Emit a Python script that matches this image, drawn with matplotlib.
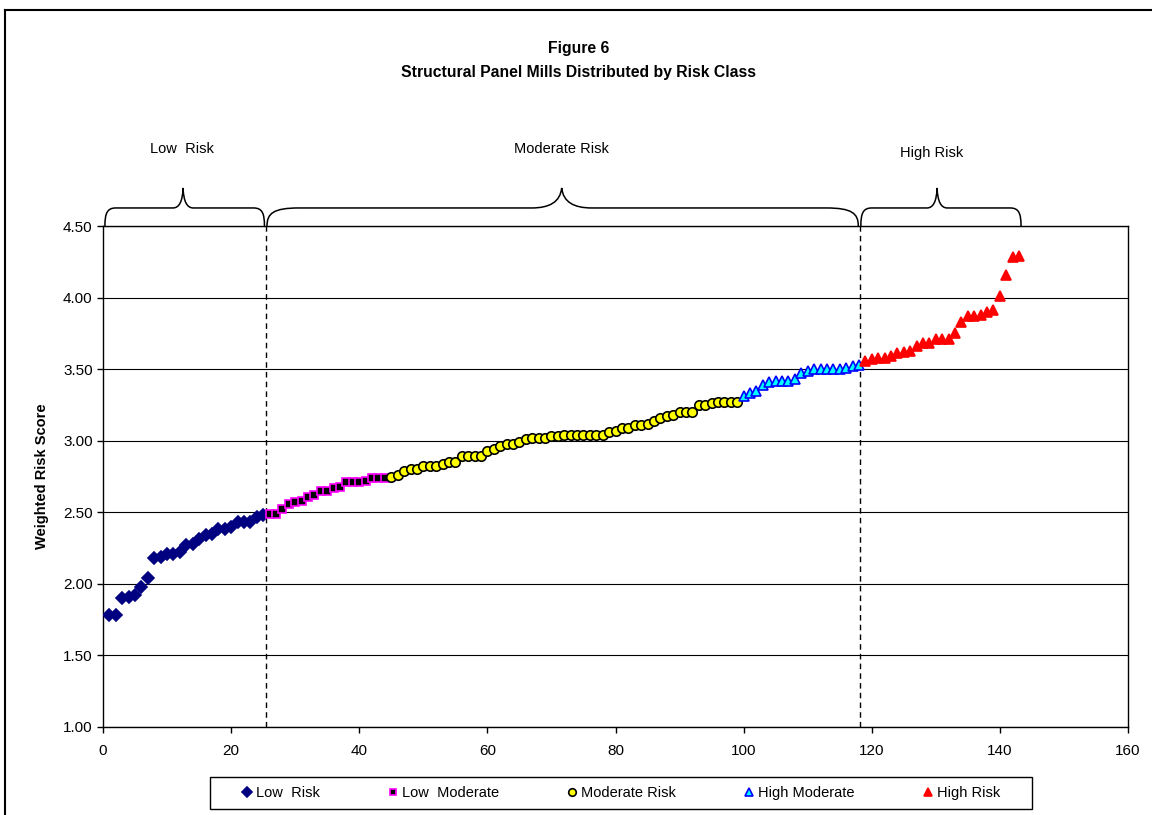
import numpy as np
import matplotlib
matplotlib.use("Agg")
import matplotlib.pyplot as plt
from matplotlib.path import Path
from matplotlib.patches import PathPatch, Rectangle
from matplotlib.lines import Line2D

plt.rcParams['font.family'] = ['Liberation Sans', 'DejaVu Sans']

# weighted risk scores, mills sorted ascending, one list per risk class
low_risk = [1.78, 1.78, 1.90, 1.91, 1.92, 1.98, 2.04, 2.18, 2.19, 2.21,
            2.21, 2.22, 2.27, 2.28, 2.31, 2.34, 2.35, 2.38, 2.38, 2.40,
            2.43, 2.43, 2.43, 2.47, 2.48]
low_moderate = [2.49, 2.49, 2.52, 2.56, 2.57, 2.58, 2.61, 2.62, 2.65, 2.65,
                2.67, 2.68, 2.71, 2.71, 2.71, 2.72, 2.74, 2.74, 2.74]
moderate = [2.75, 2.76, 2.79, 2.80, 2.80, 2.82, 2.82, 2.82, 2.84, 2.85,
            2.85, 2.89, 2.89, 2.89, 2.89, 2.93, 2.94, 2.96, 2.98, 2.98,
            2.99, 3.01, 3.02, 3.02, 3.02, 3.03, 3.03, 3.04, 3.04, 3.04,
            3.04, 3.04, 3.04, 3.04, 3.06, 3.07, 3.09, 3.09, 3.11, 3.11,
            3.12, 3.14, 3.16, 3.17, 3.18, 3.20, 3.20, 3.20, 3.25, 3.25,
            3.26, 3.27, 3.27, 3.27, 3.27]
high_moderate = [3.31, 3.33, 3.35, 3.39, 3.41, 3.42, 3.42, 3.42, 3.43, 3.47,
                 3.49, 3.50, 3.50, 3.50, 3.50, 3.50, 3.51, 3.52, 3.53]
high_risk = [3.56, 3.57, 3.58, 3.58, 3.59, 3.61, 3.62, 3.63, 3.66, 3.68,
             3.68, 3.71, 3.71, 3.71, 3.75, 3.83, 3.87, 3.87, 3.88, 3.90,
             3.91, 4.01, 4.16, 4.28, 4.29]

series_names = ['Low  Risk', 'Low  Moderate', 'Moderate Risk', 'High Moderate', 'High Risk']
series_data = [low_risk, low_moderate, moderate, high_moderate, high_risk]

# class boundaries (dashed lines) and bracket labels
cut_low = 25.4
cut_high = 118.1
bracket_labels = ['Low  Risk', 'Moderate Risk', 'High Risk']
bracket_spans = [(0.3, 25.2), (25.6, 117.9), (118.3, 143.3)]
bracket_tips = [12.5, 71.6, 130.2]
label_x = [12.3, 71.6, 129.4]
label_y = [5.04, 5.04, 5.01]

# marker styles: (marker, size, face, edge)
styles = [('D', 6.0, '#000080', '#000080'),
          ('s', 5.8, '#000000', '#FF00FF'),
          ('o', 6.8, '#FFFF00', '#000000'),
          ('^', 7.0, '#00FFFF', '#0000FF'),
          ('^', 7.0, '#FF0000', '#FF0000')]

fig = plt.figure(figsize=(11.52, 8.15), dpi=100)
ax = fig.add_axes([103 / 1152, 1 - 727 / 815, 1025 / 1152, 501 / 815])

start = 1
handles = []
for name, vals, (m, ms, fc, ec) in zip(series_names, series_data, styles):
    xs = np.arange(start, start + len(vals))
    h, = ax.plot(xs, vals, linestyle='none', marker=m, markersize=ms,
                 markerfacecolor=fc, markeredgecolor=ec, markeredgewidth=1.2,
                 label=name, zorder=3)
    handles.append(h)
    start += len(vals)

ax.set_xlim(0, 160)
ax.set_ylim(1.0, 4.5)
ax.set_xticks(np.arange(0, 161, 20))
ax.set_yticks(np.arange(1.0, 4.51, 0.5))
ax.set_yticklabels(['%.2f' % v for v in np.arange(1.0, 4.51, 0.5)])
ax.tick_params(labelsize=11, length=4, width=1, colors='black')
ax.tick_params(axis='x', pad=8)
ax.grid(axis='y', color='black', linewidth=0.8)
ax.set_axisbelow(True)
for s in ax.spines.values():
    s.set_linewidth(1)
    s.set_color('black')

ax.set_ylabel('Weighted Risk Score', fontsize=10.5, fontweight='bold', labelpad=10)

ax.axvline(cut_low, color='black', linestyle='--', linewidth=1, dashes=(4, 3))
ax.axvline(cut_high, color='black', linestyle='--', linewidth=1, dashes=(4, 3))

# curly brackets above the plot area
y0, ym, yt = 4.5, 4.626, 4.766
for (x0, x1), xc, lx, ly, lab in zip(bracket_spans, bracket_tips, label_x, label_y, bracket_labels):
    big = (x1 - x0) > 40
    ew = 5.0 if big else 1.7
    tw = 4.7 if big else 1.6
    verts = [(x0, y0),
             (x0, y0 + (ym - y0) * 0.7), (x0 + ew * 0.2, ym), (x0 + ew, ym),
             (xc - tw, ym),
             (xc - tw * 0.4, ym), (xc - tw * 0.05, ym + (yt - ym) * 0.3), (xc, yt),
             (xc + tw * 0.05, ym + (yt - ym) * 0.3), (xc + tw * 0.4, ym), (xc + tw, ym),
             (x1 - ew, ym),
             (x1 - ew * 0.2, ym), (x1, y0 + (ym - y0) * 0.7), (x1, y0)]
    codes = [Path.MOVETO,
             Path.CURVE4, Path.CURVE4, Path.CURVE4,
             Path.LINETO,
             Path.CURVE4, Path.CURVE4, Path.CURVE4,
             Path.CURVE4, Path.CURVE4, Path.CURVE4,
             Path.LINETO,
             Path.CURVE4, Path.CURVE4, Path.CURVE4]
    ax.add_patch(PathPatch(Path(verts, codes), facecolor='none', edgecolor='black',
                           linewidth=1.1, clip_on=False))
    ax.text(lx, ly, lab, ha='center', va='center', fontsize=10.5)

fig.text(0.502, 1 - 49 / 815, 'Figure 6', ha='center', va='center',
         fontsize=11.3, fontweight='bold')
fig.text(0.502, 1 - 72 / 815, 'Structural Panel Mills Distributed by Risk Class',
         ha='center', va='center', fontsize=11.3, fontweight='bold')

# outer chart-area border
fig.add_artist(Line2D([5 / 1152, 1.0], [1 - 10 / 815, 1 - 10 / 815],
                      transform=fig.transFigure, color='black', linewidth=1.5))
fig.add_artist(Line2D([5 / 1152, 5 / 1152], [0, 1 - 10 / 815],
                      transform=fig.transFigure, color='black', linewidth=1.5))

# legend box and entries
fig.add_artist(Rectangle((210 / 1152, 1 - 809 / 815), 822 / 1152, 32 / 815,
                         transform=fig.transFigure, facecolor='white',
                         edgecolor='black', linewidth=1))
leg = fig.legend(handles=handles, loc='center', ncol=5,
                 bbox_to_anchor=(620 / 1152, 1 - 793 / 815),
                 fontsize=10.5, frameon=False, handletextpad=0.12,
                 handlelength=1.0, columnspacing=4.5, borderpad=0,
                 markerscale=0.8)

fig.savefig('out.png', dpi=100)
